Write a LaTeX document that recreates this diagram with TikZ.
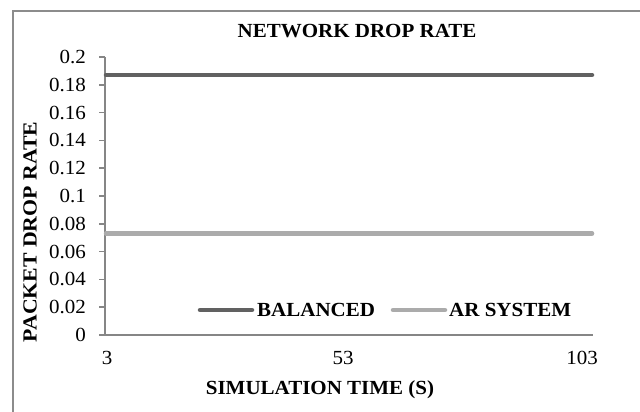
\documentclass[tikz,border=0pt]{standalone}
\usepackage{fontspec}
\setmainfont{Liberation Serif}
\definecolor{framegray}{HTML}{8C8C8C}
\definecolor{axisgray}{HTML}{868686}
\definecolor{seriesdark}{HTML}{616161}
\definecolor{serieslight}{HTML}{ABABAB}
\newcommand{\wide}[2][1.05]{\scalebox{#1}[1]{#2}}
\tikzset{
  ticklabel/.style={font=\fontsize{20}{22}\selectfont, inner sep=0pt},
  boldlabel/.style={font=\fontsize{20}{22}\selectfont\bfseries, inner sep=0pt},
  axisline/.style={draw=axisgray, line width=1.5pt},
  darkseries/.style={draw=seriesdark, line width=4.5pt, line cap=round},
  lightseries/.style={draw=serieslight, line width=4.5pt, line cap=round}
}
\begin{document}
\begin{tikzpicture}[x=1pt, y=-1pt]
  \useasboundingbox (0,0) rectangle (640,412);
  \clip (0,0) rectangle (640,412);
  \fill[white] (0,0) rectangle (640,412);
  % chart frame (continues past the right and lower edges)
  \draw[framegray, line width=1.2pt] (13,700) -- (13,11) -- (700,11);
  % title
  \node[boldlabel] (title) at (357,31) {\wide{NETWORK DROP RATE}};
  % axes
  \coordinate (origin) at (105,335);
  \coordinate (ytop) at (105,57);
  \coordinate (xend) at (593,335);
  \draw[axisline] (ytop) -- (origin) -- (xend);
  % y ticks and labels
  \foreach \i/\lab in {0/0,1/0.02,2/0.04,3/0.06,4/0.08,5/0.1,6/0.12,7/0.14,8/0.16,9/0.18,10/0.2}{
    \coordinate (yt\i) at (105,{335-27.8*\i});
    \draw[axisline] (yt\i) -- ++(-6.5,0);
    \node[ticklabel, anchor=east] (yl\i) at ([xshift=-19pt]yt\i) {\wide{\lab}};
  }
  % x tick labels
  \node[ticklabel] (x3) at (107,358) {\wide{3}};
  \node[ticklabel] (x53) at (343,358) {\wide{53}};
  \node[ticklabel] (x103) at (582,358) {\wide{103}};
  % axis titles
  \node[boldlabel, rotate=90] (ylabel) at (30,232) {\wide[1.09]{PACKET DROP RATE}};
  \node[boldlabel] (xlabel) at (320,390) {\wide{SIMULATION TIME (S)}};
  % data series
  \coordinate (b0) at (106,75);
  \coordinate (b1) at (592,75);
  \coordinate (a0) at (106,233.5);
  \coordinate (a1) at (592,233.5);
  \draw[darkseries] (b0) -- (b1);
  \draw[lightseries] (a0) -- (a1);
  % legend
  \coordinate (lb0) at (200,310);
  \coordinate (lb1) at (252,310);
  \coordinate (la0) at (393,310);
  \coordinate (la1) at (445,310);
  \draw[darkseries] (lb0) -- (lb1);
  \draw[lightseries] (la0) -- (la1);
  \node[boldlabel, anchor=west] (legb) at (257,310) {\wide{BALANCED}};
  \node[boldlabel, anchor=west] (lega) at (449,310) {\wide{AR SYSTEM}};
\end{tikzpicture}
\end{document}
